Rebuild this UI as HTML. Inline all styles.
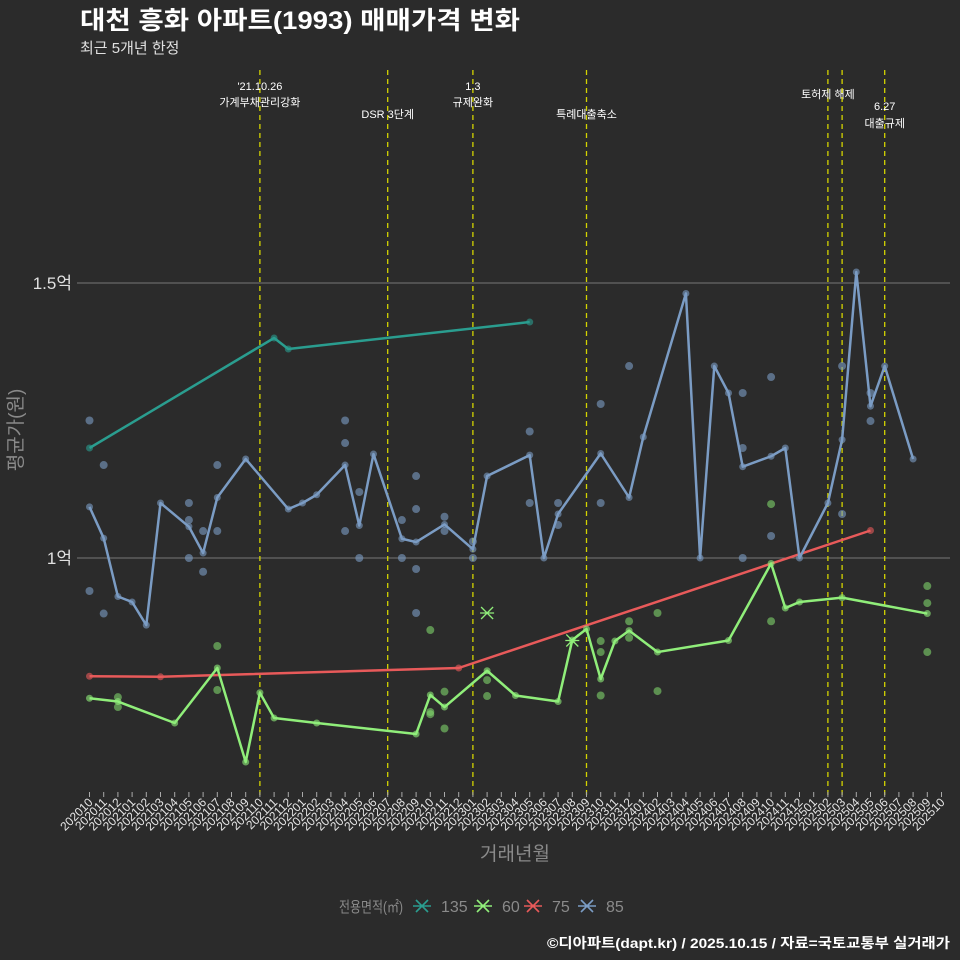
<!DOCTYPE html>
<html><head><meta charset="utf-8">
<style>
html,body{margin:0;padding:0;background:#2b2b2b;}
svg{display:block;}
text{font-family:"Liberation Sans","Noto Sans CJK KR",sans-serif;}
</style></head>
<body>
<svg id="chart" width="960" height="960" viewBox="0 0 960 960">
<rect width="960" height="960" fill="#2b2b2b"/>
<text x="80" y="29" font-size="25" font-weight="bold" fill="#ffffff" textLength="440" lengthAdjust="spacingAndGlyphs">대천 흥화 아파트(1993) 매매가격 변화</text>
<text x="80" y="53" font-size="15" fill="#e0e0e0">최근 5개년 한정</text>
<g id="grid"></g>
<g id="events"></g>
<g id="series"></g>
<g id="xaxis"></g>
<text x="515" y="860" font-size="19" fill="#8a8a8a" text-anchor="middle">거래년월</text>
<text transform="translate(22,430) rotate(-90)" font-size="19" fill="#8a8a8a" text-anchor="middle">평균가(원)</text>
<g id="legend"></g>
<text x="547" y="948" font-size="14" font-weight="bold" fill="#ffffff" textLength="403" lengthAdjust="spacingAndGlyphs">©디아파트(dapt.kr) / 2025.10.15 / 자료=국토교통부 실거래가</text>
</svg>
<script>
const months = [];
for (let y = 2020; y <= 2025; y++) for (let m = 1; m <= 12; m++) {
  const k = y * 100 + m; if (k >= 202010 && k <= 202510) months.push(String(k));
}
const yTicks = [1.0, 1.5];
const yTickLabels = ['1억', '1.5억'];
const eventMonths = ['202110','202207','202301','202309','202502','202503','202506'];
const eventLabels = [["'21.10.26","가계부채관리강화"],["DSR 3단계"],["1.3","규제완화"],["특례대출축소"],["토허제 해제"],[],["6.27","대출규제"]];
const eventLabelY = [[90,106],[118],[90,106],[118],[98],[],[110,127]];
const seriesNames = ['135','60','75','85'];
const seriesColors = ['#2a9d8f','#90ee7a','#e85a5a','#7b9cc4'];
const s135idx = [0,13,14,31];
const s135val = [1.2,1.4,1.38,1.429];
const s60idx = [0,2,6,9,11,12,13,16,23,24,25,28,30,33,34,35,36,37,38,40,45,48,49,50,53,59];
const s60val = [0.745,0.739,0.70,0.80,0.629,0.755,0.709,0.70,0.68,0.751,0.729,0.795,0.75,0.739,0.851,0.871,0.78,0.849,0.868,0.829,0.85,0.99,0.909,0.92,0.928,0.899];
const s75idx = [0,5,26,55];
const s75val = [0.785,0.784,0.80,1.05];
const s85idx = [0,1,2,3,4,5,7,8,9,11,14,15,16,18,19,20,22,23,25,27,28,31,32,33,36,38,39,42,43,44,45,46,48,49,50,52,53,54,55,56,58];
const s85val = [1.093,1.036,0.93,0.92,0.878,1.1,1.057,1.009,1.11,1.18,1.089,1.1,1.115,1.169,1.059,1.189,1.035,1.029,1.061,1.016,1.149,1.187,1.0,1.08,1.19,1.11,1.22,1.481,1.0,1.349,1.3,1.166,1.185,1.2,1.0,1.1,1.215,1.52,1.276,1.349,1.18];
const d85idx = [0,0,1,1,7,7,7,8,8,9,9,18,18,18,19,19,22,22,23,23,23,23,25,25,27,27,31,31,33,33,36,36,38,46,46,46,48,48,53,53,55,55];
const d85val = [1.25,0.94,1.169,0.899,1.1,1.069,1.0,1.049,0.975,1.169,1.049,1.25,1.209,1.049,1.12,1.0,1.069,1.0,1.149,1.089,0.98,0.9,1.075,1.049,1.03,1.0,1.23,1.1,1.1,1.06,1.28,1.1,1.349,1.3,1.2,1.0,1.329,1.04,1.349,1.08,1.249,1.3];
const d60idx = [2,2,9,9,24,24,24,25,25,28,28,36,36,36,38,38,40,40,48,48,59,59,59];
const d60val = [0.747,0.729,0.84,0.76,0.869,0.72,0.716,0.757,0.69,0.778,0.749,0.849,0.829,0.75,0.885,0.855,0.9,0.758,1.098,0.885,0.949,0.918,0.829];
const x60idx = [28,34];
const x60val = [0.9,0.85];

const NS = 'http://www.w3.org/2000/svg';
function xS(i){ return 89.5 + 14.2 * i; }
function yS(v){ return 558 - (v - 1) * 550; }
function mk(tag, attrs, parent){ const e = document.createElementNS(NS, tag); for (const k in attrs) e.setAttribute(k, attrs[k]); parent.appendChild(e); return e; }

const grid = document.getElementById('grid');
yTicks.forEach((v, k) => {
  const l = mk('line', {x1:77, x2:950, y1:yS(v), y2:yS(v), stroke:'#777', 'stroke-width':1}, grid);
  
  
  const t = mk('text', {x:72, y:yS(v)+6, 'font-size':17, fill:'#e0e0e0', 'text-anchor':'end'}, grid);
  t.textContent = yTickLabels[k];
  
  
});

const ev = document.getElementById('events');
eventMonths.forEach((m, k) => {
  const x = xS(months.indexOf(m));
  const l = mk('line', {x1:x, x2:x, y1:70, y2:797, stroke:'#d4d400', 'stroke-width':1.3, 'stroke-dasharray':'5,4'}, ev);
  
  
  eventLabels[k].forEach((s, j) => {
    const t = mk('text', {x:x, y:eventLabelY[k][j], 'font-size':11, fill:'#ffffff', 'text-anchor':'middle'}, ev);
    t.textContent = s;
    
    
  });
});

const sg = document.getElementById('series');
function dots(idx, val, color, name){
  idx.forEach((i, k) => {
    const c = mk('circle', {cx:xS(i), cy:yS(val[k]), r:4, fill:color, opacity:0.6}, sg);
    
    
  });
}
function line(idx, val, color, name){
  const pts = idx.map((i, k) => xS(i) + ',' + yS(val[k])).join(' ');
  const p = mk('polyline', {points:pts, fill:'none', stroke:color, 'stroke-width':2.5, 'stroke-linejoin':'round'}, sg);
  
  
  idx.forEach((i, k) => {
    const c = mk('circle', {cx:xS(i), cy:yS(val[k]), r:3.5, fill:color, opacity:0.6}, sg);
    
    
  });
}
dots(d85idx, d85val, '#7b9cc4', 'dot-85');
dots(d60idx, d60val, '#7fd46a', 'dot-60');
line(s135idx, s135val, '#2a9d8f', 'line-135');
line(s75idx, s75val, '#e85a5a', 'line-75');
line(s60idx, s60val, '#90ee7a', 'line-60');
line(s85idx, s85val, '#7b9cc4', 'line-85');
x60idx.forEach((i, k) => {
  const x = xS(i), y = yS(x60val[k]);
  const p = mk('path', {d:`M${x-6},${y-6}L${x+6},${y+6}M${x-6},${y+6}L${x+6},${y-6}M${x-7},${y}L${x+7},${y}`, stroke:'#90ee7a', 'stroke-width':1.3, fill:'none'}, sg);
  
  
});

const xa = document.getElementById('xaxis');
months.forEach((m, i) => {
  const x = xS(i);
  const t1 = mk('line', {x1:x, x2:x, y1:792, y2:797, stroke:'#aaa', 'stroke-width':1}, xa);
  
  
  const t = mk('text', {transform:`translate(${x+4},${803}) rotate(-45)`, 'font-size':12, fill:'#e6e6e6', 'text-anchor':'end'}, xa);
  t.textContent = m;
  
  
});

const lg = document.getElementById('legend');
const lt = mk('text', {x:339, y:912, 'font-size':15, fill:'#8a8a8a', textLength:64, lengthAdjust:'spacingAndGlyphs'}, lg);
lt.textContent = '전용면적(㎡)';


const lgX = [422, 483, 533, 587];
seriesNames.forEach((n, k) => {
  const cx = lgX[k], cy = 906;
  const p = mk('path', {d:`M${cx-9},${cy}L${cx+9},${cy}M${cx-6},${cy-6}L${cx+6},${cy+6}M${cx-6},${cy+6}L${cx+6},${cy-6}`, stroke:seriesColors[k], 'stroke-width':1.6, fill:'none'}, lg);
  
  
  const t = mk('text', {x:lgX[k] + 19, y:912, 'font-size':16, fill:'#8a8a8a'}, lg);
  t.textContent = n;
  
  
});
</script>
</body></html>
